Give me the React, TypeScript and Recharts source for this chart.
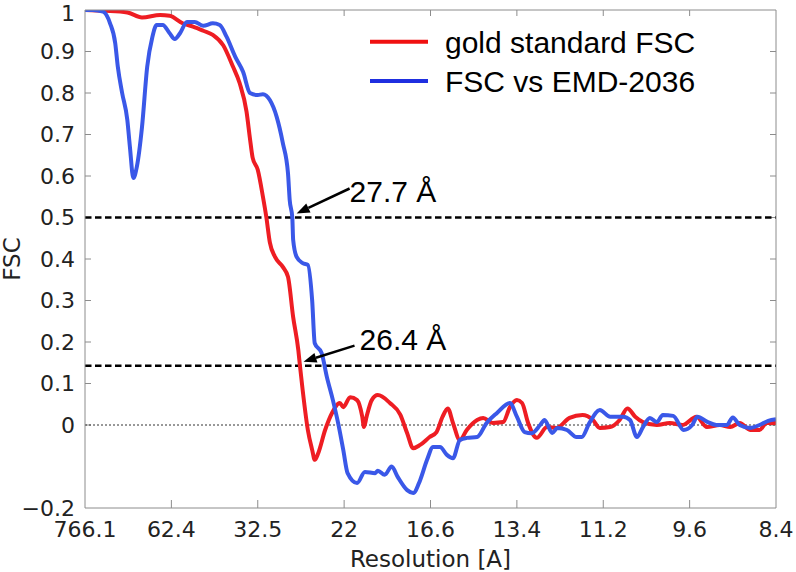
import React from "react";
import { LineChart, Line, XAxis, YAxis, ReferenceLine, ReferenceDot } from "recharts";

// x is measured in tick steps (linear in spatial frequency), labelled with resolution in Å
const X_TICKS = [0, 1, 2, 3, 4, 5, 6, 7, 8];
const X_TICK_LABELS = ["766.1", "62.4", "32.5", "22", "16.6", "13.4", "11.2", "9.6", "8.4"];
const Y_TICKS = [-0.2, 0, 0.1, 0.2, 0.3, 0.4, 0.5, 0.6, 0.7, 0.8, 0.9, 1];
const X_DOMAIN = [0, 8];
const Y_DOMAIN = [-0.2, 1];

const SERIES_NAMES = ["gold standard FSC", "FSC vs EMD-2036"];

const GOLD_X = [
  0, 0.23, 0.49, 0.66, 0.87, 0.98, 1.13, 1.25, 1.37, 1.48, 1.6, 1.71, 1.79, 1.87, 1.91, 1.94,
  2.0, 2.06, 2.1, 2.14, 2.2, 2.29, 2.35, 2.41, 2.47, 2.49, 2.52, 2.58, 2.63, 2.66, 2.7, 2.78,
  2.86, 2.95, 2.99, 3.07, 3.15, 3.21, 3.23, 3.26, 3.32, 3.39, 3.53, 3.65, 3.73, 3.8, 3.88,
  3.99, 4.07, 4.14, 4.2, 4.26, 4.34, 4.42, 4.54, 4.61, 4.72, 4.84, 4.92, 5.0, 5.06, 5.13,
  5.23, 5.35, 5.46, 5.61, 5.76, 5.88, 5.96, 6.08, 6.19, 6.28, 6.37, 6.46, 6.62, 6.77, 6.92,
  7.08, 7.2, 7.35, 7.47, 7.58, 7.7, 7.81, 7.89, 8.0,
];
const GOLD_Y = [
  1.0, 0.998, 0.994, 0.982, 0.988, 0.986, 0.968, 0.96, 0.95, 0.94, 0.915, 0.865, 0.824, 0.755,
  0.69, 0.645, 0.615, 0.55, 0.5, 0.44, 0.405, 0.381, 0.357, 0.26, 0.18, 0.14, 0.084, -0.012,
  -0.06, -0.084, -0.068, -0.012, 0.029, 0.053, 0.043, 0.067, 0.06, 0.02, -0.005, 0.02, 0.06,
  0.072, 0.053, 0.025, -0.02, -0.056, -0.048, -0.029, -0.017, 0.02, 0.04, 0.005, -0.036,
  -0.012, 0.012, 0.017, 0.005, 0.007, 0.043, 0.06, 0.053, 0.005, -0.031, -0.005, -0.007,
  0.017, 0.024, 0.012, -0.007, -0.005, 0.012, 0.04, 0.02, 0.007, 0, 0.005, 0, 0.02, -0.005,
  0, -0.005, 0.005, -0.012, -0.012, 0.005, 0.005,
];

const EMD_X = [
  0, 0.09, 0.21, 0.29, 0.35, 0.38, 0.43, 0.49, 0.52, 0.56, 0.6, 0.66, 0.72, 0.78, 0.83, 0.9,
  0.98, 1.04, 1.1, 1.18, 1.27, 1.37, 1.48, 1.56, 1.64, 1.74, 1.83, 1.91, 2.0, 2.06, 2.14,
  2.22, 2.29, 2.35, 2.37, 2.4, 2.41, 2.45, 2.52, 2.58, 2.63, 2.66, 2.74, 2.8, 2.87, 2.93,
  2.99, 3.04, 3.15, 3.24, 3.36, 3.39, 3.47, 3.55, 3.62, 3.73, 3.8, 3.88, 3.96, 4.03, 4.11,
  4.19, 4.26, 4.34, 4.42, 4.54, 4.65, 4.77, 4.92, 5.0, 5.09, 5.17, 5.27, 5.32, 5.41, 5.47,
  5.58, 5.69, 5.75, 5.84, 5.96, 6.08, 6.23, 6.31, 6.39, 6.46, 6.54, 6.62, 6.69, 6.81, 6.93,
  7.03, 7.09, 7.2, 7.31, 7.43, 7.5, 7.58, 7.7, 7.81, 7.91, 8.0,
];
const EMD_Y = [
  1.0, 1.0, 0.996, 0.968, 0.92, 0.863, 0.8, 0.735, 0.67, 0.595, 0.622, 0.718, 0.863, 0.935,
  0.964, 0.964, 0.944, 0.93, 0.944, 0.971, 0.971, 0.962, 0.968, 0.964, 0.935, 0.887, 0.851,
  0.8, 0.795, 0.797, 0.783, 0.742, 0.68, 0.607, 0.542, 0.5, 0.446, 0.405, 0.39, 0.386, 0.3,
  0.197, 0.173, 0.116, 0.06, 0.005, -0.06, -0.116, -0.14, -0.113, -0.116, -0.11, -0.12, -0.1,
  -0.125, -0.157, -0.164, -0.133, -0.084, -0.053, -0.053, -0.072, -0.08, -0.036, -0.031,
  -0.029, 0.005, 0.029, 0.053, 0.02, -0.017, -0.02, 0, 0.012, -0.019, -0.007, -0.012, -0.029,
  -0.029, 0.005, 0.036, 0.02, 0.02, 0.012, -0.029, -0.005, 0.017, 0.007, 0.024, 0.022,
  -0.012, 0, 0.02, 0.008, 0, 0, 0.018, 0, -0.007, 0, 0.01, 0.014,
];

// FSC thresholds and where the curves cross them
const THRESHOLDS = [0.5, 0.143];
const CROSS_X = [2.45, 2.53];
const CROSS_LABELS = ["27.7 Å", "26.4 Å"];

const goldData = GOLD_X.map((x, i) => ({ x, y: GOLD_Y[i] }));
const emdData = EMD_X.map((x, i) => ({ x, y: EMD_Y[i] }));

const FRAME = "#8c8c8c";
const TICK_FONT = { fill: "#222", fontSize: 22, fontFamily: "DejaVu Sans" };
const RED = "#ee1d23";
const BLUE = "#3a58e8";

// inward tick lengths, in data units (plot is 691 x 498 px)
const X_TICK_LEN = (8 / 691) * 6;
const Y_TICK_LEN_BOTTOM = (1.2 / 498) * 8;
const Y_TICK_LEN_TOP = (1.2 / 498) * 6;

const fmtY = (v: number) => String(Number(v.toFixed(1))).replace("-", "\u2212");
const fmtX = (v: number) => X_TICK_LABELS[Math.round(v)] ?? "";

function ArrowNote({ cx, cy, text, dx, dy, textDx }: any) {
  const tipX = cx;
  const tipY = cy - 4;
  const tailX = cx + dx;
  const tailY = tipY + dy;
  const ang = Math.atan2(tipY - tailY, tipX - tailX);
  const len = 13;
  const half = 5;
  const bx = tipX - len * Math.cos(ang);
  const by = tipY - len * Math.sin(ang);
  const nx = -Math.sin(ang) * half;
  const ny = Math.cos(ang) * half;
  return (
    <g>
      <line x1={tailX} y1={tailY} x2={bx} y2={by} stroke="#000" strokeWidth={2.5} />
      <polygon
        points={`${tipX},${tipY} ${bx + nx},${by + ny} ${bx - nx},${by - ny}`}
        fill="#000"
      />
      <text
        x={tipX + textDx}
        y={tipY - 12}
        fontFamily="Liberation Sans"
        fontSize={30}
        fill="#000"
      >
        {text}
      </text>
    </g>
  );
}

const ARROW_DX = [53, 51];
const ARROW_DY = [-25, -16];
const TEXT_DX = [53, 56];

export default function App() {
  const [x0, x1] = X_DOMAIN;
  const [y0, y1] = Y_DOMAIN;
  return (
    <div
      style={{ position: "absolute", left: 0, top: 0, width: 796, height: 572, background: "#fff" }}
    >
      <LineChart
        width={796}
        height={572}
        margin={{ top: 10, right: 20, left: 15, bottom: 24 }}
      >
        <XAxis
          dataKey="x"
          type="number"
          domain={X_DOMAIN}
          ticks={X_TICKS}
          tickFormatter={fmtX}
          allowDataOverflow
          height={40}
          tickLine={false}
          tickSize={0}
          tickMargin={13}
          axisLine={{ stroke: FRAME }}
          tick={TICK_FONT}
          label={{
            value: "Resolution [A]",
            position: "bottom",
            offset: 3,
            fill: "#222",
            fontSize: 23,
            fontFamily: "DejaVu Sans",
          }}
        />
        <XAxis
          xAxisId="top"
          orientation="top"
          dataKey="x"
          type="number"
          domain={X_DOMAIN}
          mirror
          tick={false}
          tickLine={false}
          axisLine={{ stroke: FRAME }}
        />
        <YAxis
          type="number"
          domain={Y_DOMAIN}
          ticks={Y_TICKS}
          allowDataOverflow
          width={70}
          tickFormatter={fmtY}
          tickLine={false}
          tickSize={0}
          tickMargin={10}
          axisLine={{ stroke: FRAME }}
          tick={TICK_FONT}
          label={{
            value: "FSC",
            angle: -90,
            position: "center",
            dx: -38,
            fill: "#222",
            fontSize: 23,
            fontFamily: "DejaVu Sans",
          }}
        />
        <YAxis
          yAxisId="right"
          orientation="right"
          type="number"
          domain={Y_DOMAIN}
          mirror
          tick={false}
          tickLine={false}
          axisLine={{ stroke: FRAME }}
        />

        {/* inward tick marks on all four sides */}
        {X_TICKS.slice(1, -1).map((t) => (
          <ReferenceLine
            key={`xb${t}`}
            segment={[{ x: t, y: y0 }, { x: t, y: y0 + Y_TICK_LEN_BOTTOM }]}
            stroke={FRAME}
            strokeWidth={1}
            ifOverflow="visible"
          />
        ))}
        {X_TICKS.slice(1, -1).map((t) => (
          <ReferenceLine
            key={`xt${t}`}
            segment={[{ x: t, y: y1 }, { x: t, y: y1 - Y_TICK_LEN_TOP }]}
            stroke={FRAME}
            strokeWidth={1}
            ifOverflow="visible"
          />
        ))}
        {Y_TICKS.slice(1, -1).map((t) => (
          <ReferenceLine
            key={`yl${t}`}
            segment={[{ x: x0, y: t }, { x: x0 + X_TICK_LEN, y: t }]}
            stroke={FRAME}
            strokeWidth={1}
            ifOverflow="visible"
          />
        ))}
        {Y_TICKS.slice(1, -1).map((t) => (
          <ReferenceLine
            key={`yr${t}`}
            segment={[{ x: x1, y: t }, { x: x1 - X_TICK_LEN, y: t }]}
            stroke={FRAME}
            strokeWidth={1}
            ifOverflow="visible"
          />
        ))}

        <ReferenceLine y={0} stroke="#333" strokeWidth={1} strokeDasharray="2 2" />
        {THRESHOLDS.map((t) => (
          <ReferenceLine
            key={t}
            y={t}
            stroke="#000"
            strokeWidth={2.5}
            strokeDasharray="6.5 3.5"
          />
        ))}

        <Line
          data={goldData}
          dataKey="y"
          name={SERIES_NAMES[0]}
          type="monotone"
          stroke={RED}
          strokeWidth={4}
          dot={false}
          isAnimationActive={false}
        />
        <Line
          data={emdData}
          dataKey="y"
          name={SERIES_NAMES[1]}
          type="monotone"
          stroke={BLUE}
          strokeWidth={4}
          dot={false}
          isAnimationActive={false}
        />

        {CROSS_X.map((cx, i) => (
          <ReferenceDot
            key={CROSS_LABELS[i]}
            x={cx}
            y={THRESHOLDS[i]}
            r={0}
            shape={(p: any) => (
              <ArrowNote
                cx={p.cx}
                cy={p.cy}
                text={CROSS_LABELS[i]}
                dx={ARROW_DX[i]}
                dy={ARROW_DY[i]}
                textDx={TEXT_DX[i]}
              />
            )}
          />
        ))}
      </LineChart>

      <svg
        width={796}
        height={572}
        style={{ position: "absolute", left: 0, top: 0, pointerEvents: "none" }}
      >
        {SERIES_NAMES.map((name, i) => (
          <g key={name}>
            <line
              x1={370}
              x2={428}
              y1={41.7 + i * 39.3}
              y2={41.7 + i * 39.3}
              stroke={i === 0 ? "#f01010" : "#1f2fe0"}
              strokeWidth={4}
            />
            <text
              x={445}
              y={53 + i * 39}
              fontFamily="Liberation Sans"
              fontSize={30}
              fill="#000"
            >
              {name}
            </text>
          </g>
        ))}
      </svg>
    </div>
  );
}
